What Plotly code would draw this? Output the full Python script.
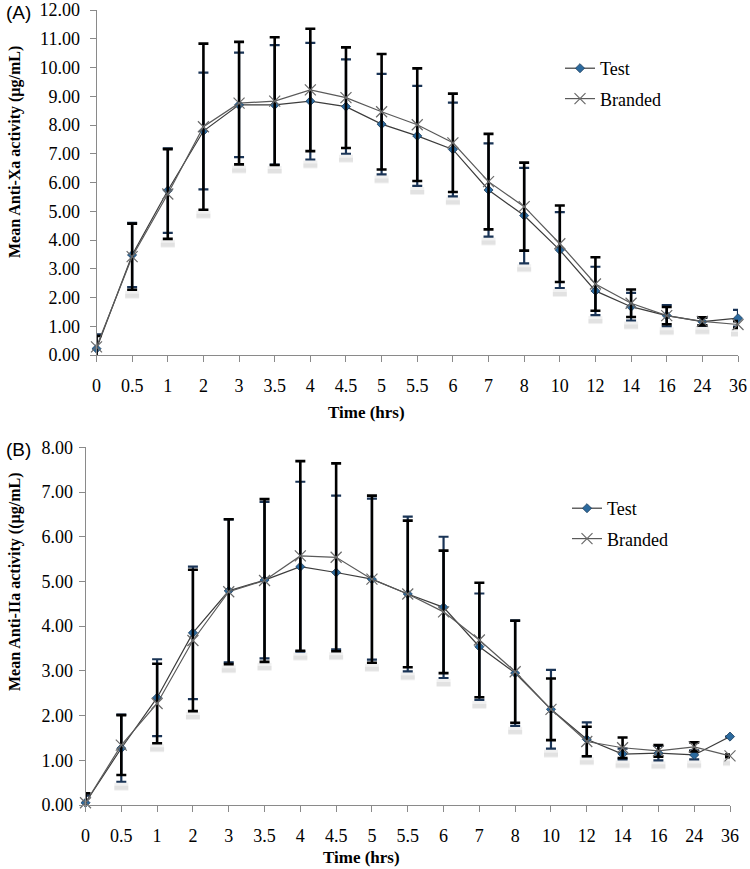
import plotly.graph_objects as go

times = ["0", "0.5", "1", "2", "3", "3.5", "4", "4.5", "5", "5.5", "6", "7", "8", "10", "12", "14", "16", "24", "36"]

# Panel A: Anti-Xa
xa_test = [0.22, 3.48, 5.72, 7.79, 8.70, 8.70, 8.83, 8.64, 8.03, 7.62, 7.15, 5.74, 4.85, 3.65, 2.23, 1.68, 1.37, 1.16, 1.28]
xa_test_sd = [0.50, 1.12, 1.47, 2.03, 1.82, 2.08, 2.03, 1.64, 1.75, 1.74, 1.63, 1.62, 1.66, 1.32, 0.84, 0.48, 0.37, 0.14, 0.29]
xa_brand = [0.28, 3.42, 5.60, 7.94, 8.76, 8.83, 9.22, 8.95, 8.46, 8.01, 7.38, 6.03, 5.16, 3.87, 2.47, 1.80, 1.37, 1.17, 1.06]
xa_brand_sd = [0.38, 1.15, 1.56, 2.89, 2.13, 2.22, 2.13, 1.75, 2.01, 1.96, 1.71, 1.66, 1.53, 1.33, 0.93, 0.48, 0.30, 0.14, 0.12]

# Panel B: Anti-IIa
iia_test = [0.05, 1.27, 2.40, 3.85, 4.79, 5.03, 5.33, 5.20, 5.05, 4.72, 4.42, 3.54, 2.95, 2.14, 1.47, 1.14, 1.16, 1.12, 1.53]
iia_test_sd = [0.16, 0.75, 0.86, 1.48, 1.60, 1.75, 1.90, 1.72, 1.80, 1.73, 1.58, 1.19, 1.18, 0.88, 0.38, 0.12, 0.16, 0.10, 0.0]
iia_brand = [0.05, 1.34, 2.27, 3.68, 4.77, 5.02, 5.57, 5.54, 5.05, 4.72, 4.32, 3.69, 2.98, 2.14, 1.42, 1.28, 1.21, 1.30, 1.10]
iia_brand_sd = [0.21, 0.67, 0.89, 1.58, 1.62, 1.82, 2.12, 2.10, 1.87, 1.64, 1.37, 1.28, 1.14, 0.69, 0.33, 0.23, 0.13, 0.10, 0.03]

xa_yticks = [0, 1, 2, 3, 4, 5, 6, 7, 8, 9, 10, 11, 12]
iia_yticks = [0, 1, 2, 3, 4, 5, 6, 7, 8]

SERIF = "Liberation Serif"
SANS = "Liberation Sans"
TEST_MARK = "#2c6a9e"
TEST_ERR = "#1a3456"
BRAND_ERR = "#000000"

W, H = 750, 869


def px(x):
    return x / W


def py(y):
    return 1 - y / H


fig = go.Figure()


def add_panel(xa, ya, test, test_sd, brand, brand_sd, legend, px_per_unit):
    # soft drop shadow under the lowest error-bar cap (as in the original figure)
    low = [min(t - ts, b - bs) for t, ts, b, bs in zip(test, test_sd, brand, brand_sd)]
    for off, alpha, wid in ((5, 0.10, 8), (6, 0.12, 4)):
        fig.add_trace(go.Scatter(
            x=times, y=[v - off / px_per_unit for v in low], mode="markers",
            xaxis=xa, yaxis=ya, showlegend=False, hoverinfo="skip",
            marker=dict(symbol="line-ew", size=10, line=dict(color=f"rgba(120,120,120,{alpha})", width=wid)),
        ))
    fig.add_trace(go.Scatter(
        x=times, y=test, name="Test", mode="lines+markers",
        xaxis=xa, yaxis=ya, legend=legend, legendgroup=legend + "t",
        line=dict(color="#3c3c3c", width=1.2),
        marker=dict(symbol="diamond", size=7, color=TEST_MARK, line=dict(color="#1c3c5c", width=0.8)),
        error_y=dict(type="data", array=test_sd, visible=True, color=TEST_ERR, thickness=2.2, width=5),
        cliponaxis=False,
    ))
    fig.add_trace(go.Scatter(
        x=times, y=brand, name="Branded", mode="lines+markers",
        xaxis=xa, yaxis=ya, legend=legend, legendgroup=legend + "b",
        line=dict(color="#5a5a5a", width=1.2),
        marker=dict(symbol="x-thin", size=11, color="#6a6a6a", line=dict(color="#6a6a6a", width=1.2)),
        error_y=dict(type="data", array=brand_sd, visible=True, color=BRAND_ERR, thickness=2.6, width=5),
        cliponaxis=False,
    ))


add_panel("x", "y", xa_test, xa_test_sd, xa_brand, xa_brand_sd, "legend", 28.75)
add_panel("x2", "y2", iia_test, iia_test_sd, iia_brand, iia_brand_sd, "legend2", 44.7)

axis_common = dict(
    showline=True, linecolor="#8a8a8a", linewidth=1, showgrid=False, zeroline=False,
    ticks="outside", ticklen=6, tickcolor="#8a8a8a", tickwidth=1,
    tickfont=dict(family=SERIF, size=18, color="#000"), automargin=False,
)

fig.update_layout(
    width=W, height=H,
    margin=dict(l=0, r=0, t=0, b=0),
    paper_bgcolor="white", plot_bgcolor="white",
    font=dict(family=SERIF, color="#000"),
    showlegend=True,
    xaxis=dict(domain=[px(96.5), px(738)], type="category", range=[0, len(times) - 1],
               anchor="y", ticklabelstandoff=8, **axis_common),
    yaxis=dict(domain=[py(355), py(10)], range=[0, 12], anchor="x",
               tickvals=xa_yticks, tickformat=".2f", ticklabelstandoff=6, **axis_common),
    xaxis2=dict(domain=[px(85.5), px(730)], type="category", range=[0, len(times) - 1],
                anchor="y2", ticklabelstandoff=8, **axis_common),
    yaxis2=dict(domain=[py(805), py(447.3)], range=[0, 8], anchor="x2",
                tickvals=iia_yticks, tickformat=".2f", ticklabelstandoff=2, **axis_common),
    legend=dict(x=px(560), y=py(50), xanchor="left", yanchor="top",
                font=dict(family=SERIF, size=18, color="#000"), tracegroupgap=4,
                bgcolor="rgba(0,0,0,0)"),
    legend2=dict(x=px(567), y=py(490), xanchor="left", yanchor="top",
                 font=dict(family=SERIF, size=18, color="#000"), tracegroupgap=4,
                 bgcolor="rgba(0,0,0,0)"),
    annotations=[
        dict(text="(A)", x=px(4), y=py(12), xref="paper", yref="paper", xanchor="left", yanchor="middle",
             showarrow=False, font=dict(family=SANS, size=19, color="#000")),
        dict(text="(B)", x=px(4), y=py(449), xref="paper", yref="paper", xanchor="left", yanchor="middle",
             showarrow=False, font=dict(family=SANS, size=19, color="#000")),
        dict(text="<b>Mean Anti-Xa activity (µg/mL)</b>", x=px(15), y=py(152), xref="paper", yref="paper",
             xanchor="center", yanchor="middle", textangle=-90, showarrow=False,
             font=dict(family=SERIF, size=16, color="#000")),
        dict(text="<b>Mean Anti-IIa activity ((µg/mL)</b>", x=px(15), y=py(582), xref="paper", yref="paper",
             xanchor="center", yanchor="middle", textangle=-90, showarrow=False,
             font=dict(family=SERIF, size=16, color="#000")),
        dict(text="<b>Time (hrs)</b>", x=px(366), y=py(412), xref="paper", yref="paper",
             xanchor="center", yanchor="middle", showarrow=False,
             font=dict(family=SERIF, size=17, color="#000")),
        dict(text="<b>Time (hrs)</b>", x=px(361), y=py(857), xref="paper", yref="paper",
             xanchor="center", yanchor="middle", showarrow=False,
             font=dict(family=SERIF, size=17, color="#000")),
    ],
)

# remove the browser's default 8px body margin so the figure fills the window exactly
fig.write_html("out.html", config={"displayModeBar": False},
               post_script="document.body.style.margin='0';")
